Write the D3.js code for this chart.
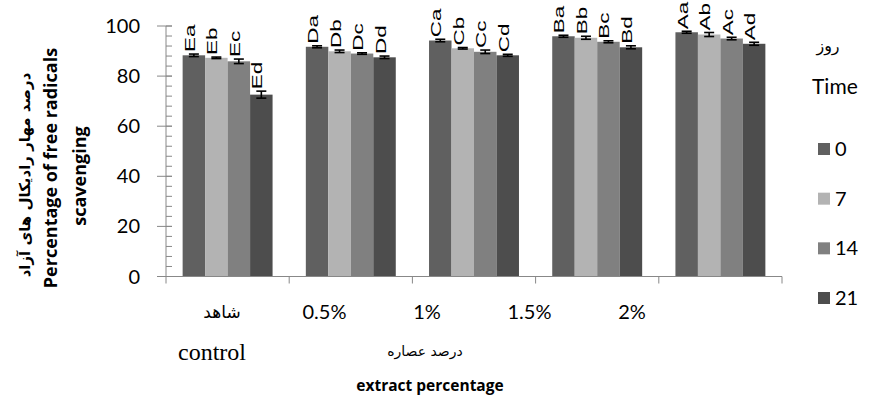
<!DOCTYPE html>
<html><head><meta charset="utf-8">
<script src="https://cdn.jsdelivr.net/npm/d3@7"></script>
<style>body{margin:0;background:#fff}svg{display:block}</style>
</head><body>
<script>
const categories = ["شاهد", "0.5%", "1%", "1.5%", "2%"];
const seriesNames = ["0", "7", "14", "21"];
const seriesColors = ["#606060", "#b3b3b3", "#808080", "#4d4d4d"];
const day0  = [88.3, 91.7, 94.2, 95.9, 97.5];
const day7  = [87.3, 89.9, 91.1, 95.3, 96.6];
const day14 = [85.9, 89.0, 89.7, 93.7, 95.0];
const day21 = [72.6, 87.5, 88.3, 91.5, 92.9];
const err0  = [0.5, 0.4, 0.5, 0.4, 0.4];
const err7  = [0.3, 0.5, 0.3, 0.6, 0.8];
const err14 = [0.9, 0.3, 0.7, 0.4, 0.5];
const err21 = [1.4, 0.5, 0.4, 0.6, 0.6];
const letters0  = ["Ea", "Da", "Ca", "Ba", "Aa"];
const letters7  = ["Eb", "Db", "Cb", "Bb", "Ab"];
const letters14 = ["Ec", "Dc", "Cc", "Bc", "Ac"];
const letters21 = ["Ed", "Dd", "Cd", "Bd", "Ad"];
const yTicks = [0, 20, 40, 60, 80, 100];

const values = [day0, day7, day14, day21];
const errs = [err0, err7, err14, err21];
const letters = [letters0, letters7, letters14, letters21];

const W = 870, H = 396;
const svg = d3.select("body").append("svg").attr("width", W).attr("height", H);

const x0 = d3.scaleBand().domain(categories).range([166, 782]).paddingInner(0.27).paddingOuter(0.135);
const x1 = d3.scaleBand().domain(d3.range(4)).range([0, x0.bandwidth()]);
const y = d3.scaleLinear().domain([0, 100]).range([276.5, 26]);
const labelX = d3.scalePoint().domain(categories).range([222, 632]);

const axisColor = "#888";

const data = [];
categories.forEach((c, i) => {
  for (let s = 0; s < 4; s++) data.push({c, s, v: values[s][i], e: errs[s][i], l: letters[s][i]});
});
svg.append("g").selectAll("rect").data(data).join("rect")
  .attr("x", d => x0(d.c) + x1(d.s))
  .attr("width", x1.bandwidth())
  .attr("y", d => y(d.v))
  .attr("height", d => y(0) - y(d.v))
  .attr("fill", d => seriesColors[d.s]);

const eg = svg.append("g").attr("stroke", "#000").attr("stroke-width", 1.6);
data.forEach(d => {
  const cx = x0(d.c) + x1(d.s) + x1.bandwidth() / 2;
  eg.append("line").attr("x1", cx).attr("x2", cx).attr("y1", y(d.v + d.e)).attr("y2", y(d.v - d.e));
  eg.append("line").attr("x1", cx - 5).attr("x2", cx + 5).attr("y1", y(d.v + d.e)).attr("y2", y(d.v + d.e));
  eg.append("line").attr("x1", cx - 5).attr("x2", cx + 5).attr("y1", y(d.v - d.e)).attr("y2", y(d.v - d.e));
});

// letter labels: rotated, stretched along the baseline
const lblG = svg.append("g").attr("class", "letters");
data.forEach(d => {
  const cx = x0(d.c) + x1(d.s) + x1.bandwidth() / 2 + 1;
  lblG.append("g")
    .attr("transform", "translate(" + cx + "," + (y(d.v + d.e) - 2) + ") rotate(-90) scale(1.55,1)")
    .append("text")
    .attr("x", 0).attr("y", 0)
    .attr("font-family", "Liberation Sans, Arial, sans-serif")
    .attr("font-size", 14.5)
    .attr("fill", "#000")
    .text(d.l);
});

const yAxis = svg.append("g");
yAxis.append("line").attr("x1", 166).attr("x2", 166).attr("y1", y(100)).attr("y2", y(0) + 7)
  .attr("stroke", axisColor);
d3.range(0, 101, 4).forEach(t => {
  yAxis.append("line").attr("x1", 166).attr("x2", 172).attr("y1", y(t)).attr("y2", y(t)).attr("stroke", axisColor);
});
yTicks.forEach(t => {
  yAxis.append("line").attr("x1", 157).attr("x2", 172).attr("y1", y(t)).attr("y2", y(t)).attr("stroke", axisColor);
  yAxis.append("text").attr("x", 140).attr("y", y(t)).attr("dy", "0.35em")
    .attr("text-anchor", "end").attr("font-family", "Lato, Carlito, sans-serif").attr("font-size", 20)
    .attr("fill", "#000").text(t);
});

const xAxis = svg.append("g");
xAxis.append("line").attr("x1", 157).attr("x2", 782).attr("y1", y(0)).attr("y2", y(0)).attr("stroke", axisColor);
categories.forEach(c => {
  const xr = x0(c) + x0.bandwidth() + x0.step() * 0.27 / 2;
  xAxis.append("line").attr("x1", xr).attr("x2", xr).attr("y1", y(0)).attr("y2", y(0) + 7).attr("stroke", axisColor);
});
xAxis.selectAll("text.cat").data(categories).join("text").attr("class", "cat")
  .attr("x", d => labelX(d)).attr("y", 312).attr("dy", "0.35em")
  .attr("text-anchor", "middle")
  .attr("font-family", d => /%/.test(d) ? "Lato, sans-serif" : "DejaVu Sans, sans-serif")
  .attr("font-size", d => /%/.test(d) ? 20 : 17)
  .attr("fill", "#000").text(d => d);

svg.append("text").attr("x", 212).attr("y", 360).attr("text-anchor", "middle")
  .attr("font-family", "Liberation Serif, Times New Roman, serif").attr("font-size", 24).text("control");
svg.append("text").attr("x", 425).attr("y", 356).attr("text-anchor", "middle")
  .attr("font-family", "DejaVu Sans, sans-serif").attr("font-size", 14).text("درصد عصاره");
svg.append("text").attr("x", 430).attr("y", 391).attr("text-anchor", "middle")
  .attr("font-family", "Open Sans, sans-serif").attr("font-size", 15.5).attr("font-weight", "bold").text("extract percentage");

const yt = svg.append("g").attr("font-weight", "bold").attr("text-anchor", "middle");
yt.append("text").attr("transform", "translate(25,175) rotate(-90)").attr("dy", "0.35em")
  .attr("font-family", "DejaVu Sans, sans-serif").attr("font-size", 15).text("درصد مهار رادیکال های آزاد");
yt.append("text").attr("transform", "translate(51,168) rotate(-90)").attr("dy", "0.35em")
  .attr("font-family", "Open Sans, sans-serif").attr("font-size", 18).text("Percentage of free radicals");
yt.append("text").attr("transform", "translate(80,176) rotate(-90)").attr("dy", "0.35em")
  .attr("font-family", "Open Sans, sans-serif").attr("font-size", 18).text("scavenging");

svg.append("text").attr("x", 828).attr("y", 45).attr("dy", "0.35em").attr("text-anchor", "middle")
  .attr("font-family", "DejaVu Sans, sans-serif").attr("font-size", 16).text("روز");
svg.append("text").attr("x", 812).attr("y", 87).attr("dy", "0.35em")
  .attr("font-family", "Lato, sans-serif").attr("font-size", 21).text("Time");
const legendY = d3.scalePoint().domain(seriesNames).range([149, 298]);
const lg = svg.append("g").selectAll("g").data(seriesNames).join("g")
  .attr("transform", d => "translate(818," + legendY(d) + ")");
lg.append("rect").attr("x", 0).attr("y", -6).attr("width", 12).attr("height", 12)
  .attr("fill", (d, i) => seriesColors[i]);
lg.append("text").attr("x", 17).attr("dy", "0.35em").attr("font-family", "Lato, sans-serif")
  .attr("font-size", 20).text(d => d);
</script>
</body></html>
